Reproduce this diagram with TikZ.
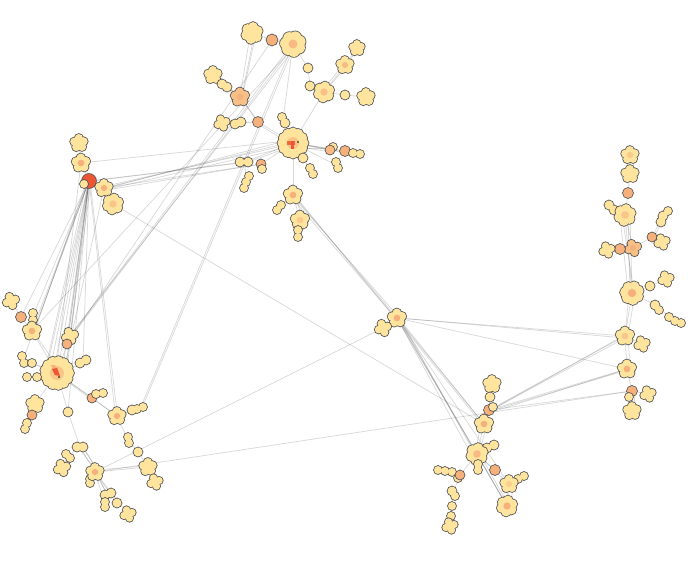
\documentclass[tikz,border=0pt]{standalone}
\definecolor{cy}{HTML}{FEE49C}
\definecolor{co}{HTML}{F6B07C}
\definecolor{cr}{HTML}{EE5533}
\definecolor{cl}{HTML}{555555}
\tikzset{
 ol/.style={draw=cl,line width=1.6pt},
 edg/.style={draw=black!70,opacity=0.21,line width=0.75pt},
}
% single circle: name, radius, colour
\newcommand\sg[3]{\draw[ol] (#1) circle (#2pt); \fill[#3] (#1) circle (#2pt);}
% group of circles: name, colour, list dx/dy/r
\newcommand\grp[3]{%
 \foreach \qx/\qy/\qr in {#3}{\draw[ol] ([shift={(\qx,\qy)}]#1) circle (\qr pt);}
 \foreach \qx/\qy/\qr in {#3}{\fill[#2] ([shift={(\qx,\qy)}]#1) circle (\qr pt);}}
% flower: name, n, d, r (outer radius d+r), petal colour, centre colour
\newcommand\fl[6]{%
 \pgfmathsetmacro\rr{0.46*(#3+#4)}\pgfmathsetmacro\dd{(#3+#4)-\rr}%
 \begin{scope}[shift={(#1)}]
 \foreach \i in {1,...,#2}{\draw[ol] (\i*360/#2+20:\dd pt) circle (\rr pt);}
 \foreach \i in {1,...,#2}{\fill[#5] (\i*360/#2+20:\dd pt) circle (\rr pt);}
 \fill[#5] (0,0) circle (\dd pt);
 \fill[#6] (0,0) circle ({0.75*\rr pt});
 \end{scope}}
% big flower: name, n, d, extra centre drawing
\newcommand\bfl[4]{%
 \begin{scope}[shift={(#1)}]
 \foreach \i in {1,...,#2}{\draw[ol] (\i*360/#2:#3pt) circle (5pt);}
 \foreach \i in {1,...,#2}{\fill[cy] (\i*360/#2:#3pt) circle (5pt);}
 \fill[cy] (0,0) circle (#3pt);
 #4
 \end{scope}}
% edge bundle: a, b, list of offsets ax/ay/bx/by
\newcommand\eb[3]{\foreach \pa/\pb/\pc/\pd in {#3}{\draw[edg] ([shift={(\pa,\pb)}]#1) -- ([shift={(\pc,\pd)}]#2);}}
\newcommand\cn[2]{\draw[edg] (#1) -- (#2);}
\begin{document}
\begin{tikzpicture}[x=1pt,y=-1pt]
\useasboundingbox (0,0) rectangle (688,563);
% ---------- positions ----------
\coordinate (t1) at (252,33);  \coordinate (t2) at (272,40);  \coordinate (t3) at (293,44);
\coordinate (t4) at (357,48);  \coordinate (t5) at (345,65);  \coordinate (t6) at (308,68);
\coordinate (t7) at (366,97);  \coordinate (t8) at (345,95);  \coordinate (t9) at (324,92);
\coordinate (t10) at (310,86); \coordinate (t11) at (213,75); \coordinate (t12) at (224,85);
\coordinate (t13) at (240,97); \coordinate (t14) at (222,123);\coordinate (t15) at (238,123);
\coordinate (t16) at (258,122);\coordinate (t17) at (283,120);\coordinate (t18) at (293,143);
\coordinate (t19) at (245,162);\coordinate (t20) at (261,164);\coordinate (t21) at (246,182);
\coordinate (t22) at (303,158);\coordinate (t23) at (311,171);\coordinate (t24) at (330,150);
\coordinate (t25) at (336,165);\coordinate (t26) at (345,151);\coordinate (t27) at (356,153);
\coordinate (t28) at (293,195);\coordinate (t29) at (279,208);\coordinate (t30) at (300,220);
\coordinate (t31) at (298,232);
\coordinate (l1) at (79,143); \coordinate (l2) at (81,163); \coordinate (l3) at (89,181);
\coordinate (l3b) at (84,184); \coordinate (l4) at (104,188); \coordinate (l5) at (113,204);
\coordinate (m1) at (11,301); \coordinate (m2) at (21,317); \coordinate (m3) at (33,316);
\coordinate (m4) at (32,331); \coordinate (m5) at (70,336); \coordinate (m6) at (67,344);
\coordinate (m7) at (23,360); \coordinate (m8) at (32,363); \coordinate (m9) at (57,373);
\coordinate (m10) at (27,377);\coordinate (m11) at (37,377);\coordinate (m12) at (83,363);
\coordinate (m13) at (35,404);\coordinate (m14) at (32,415);\coordinate (m15) at (27,426);
\coordinate (m16) at (68,412);\coordinate (m17) at (92,398);\coordinate (m18) at (117,416);
\coordinate (m19) at (136,409);\coordinate (m20) at (128,440);\coordinate (m21) at (138,452);
\coordinate (m22) at (148,467);\coordinate (m23) at (155,482);\coordinate (m24) at (80,447);
\coordinate (m25) at (68,456);\coordinate (m26) at (62,468);\coordinate (m27) at (95,472);
\coordinate (m28) at (90,481);\coordinate (m29) at (107,494);\coordinate (m30) at (105,504);
\coordinate (m31) at (117,503);\coordinate (m32) at (128,514);
\coordinate (c1) at (397,318); \coordinate (c2) at (383,328);
\coordinate (b1) at (492,384); \coordinate (b2) at (490,397); \coordinate (b3) at (489,410);
\coordinate (b4) at (484,424); \coordinate (b5) at (477,454); \coordinate (b6) at (490,447);
\coordinate (b7) at (478,467); \coordinate (b8) at (495,470); \coordinate (b9) at (460,475);
\coordinate (b10) at (443,470);\coordinate (b11) at (453,493);\coordinate (b12) at (452,506);
\coordinate (b13) at (451,516);\coordinate (b14) at (450,526);\coordinate (b15) at (509,484);
\coordinate (b16) at (520,478);\coordinate (b17) at (507,506);
\coordinate (r1) at (630,155); \coordinate (r2) at (630,174); \coordinate (r3) at (628,193);
\coordinate (r4) at (625,215); \coordinate (r5) at (611,207); \coordinate (r6) at (663,216);
\coordinate (r7) at (652,237); \coordinate (r8) at (662,242); \coordinate (r9) at (633,248);
\coordinate (r10) at (620,249);\coordinate (r11) at (607,250);\coordinate (r12) at (632,293);
\coordinate (r13) at (650,286);\coordinate (r14) at (666,279);\coordinate (r15) at (657,306);
\coordinate (r16) at (672,319);\coordinate (r17) at (625,336);\coordinate (r18) at (642,344);
\coordinate (r19) at (627,369);\coordinate (r20) at (632,391);\coordinate (r21) at (648,394);
\coordinate (r22) at (632,411);
% ---------- connectors ----------
\eb{t1}{t13}{-2/2/0/0, 2/3/2/-2, 4/0/3/-3}
\eb{t11}{t13}{0/0/0/0, 2/2/-2/2, 3/-1/-3/-2}
\cn{t12}{t13} \eb{t13}{t16}{0/0/0/0, 2/2/0/0} \cn{t15}{t16} \cn{t14}{t15}
\eb{t16}{t18}{0/0/0/0, 0/2/-4/0} \cn{t17}{t18} \cn{t1}{t2} \cn{t2}{t3}
\cn{t3}{t6} \cn{t6}{t10} \cn{t3}{t17}
\eb{t9}{t5}{0/0/0/0, 2/-2/1/2, -2/-1/-2/0} \eb{t5}{t4}{0/0/0/0, 2/0/1/0}
\cn{t9}{t8} \cn{t8}{t7} \cn{t9}{t18}
\eb{t18}{t24}{0/0/0/0, 2/3/0/2, 0/5/-2/-2} \eb{t18}{t26}{0/0/0/0, 3/0/0/2}
\cn{t18}{t27} \cn{t18}{t25} \cn{t18}{t22} \cn{t22}{t23} \cn{t18}{t28}
\eb{t18}{t19}{0/0/0/0, -3/4/3/0} \cn{t18}{t20} \cn{t19}{t21}
\cn{t28}{t29} \eb{t28}{t30}{0/0/0/0, 3/0/2/0} \cn{t30}{t31}
% top to left
\eb{t3}{m5}{-3/3/0/0, -1/4/3/-2, 1/5/-2/2}
\cn{t2}{m6} \eb{t3}{m4}{0/4/0/0}
\eb{t3}{m19}{0/0/4/0, 2/0/6/-1}
% left top group
\eb{l4}{t18}{0/0/-6/0, 2/-2/-6/2, 0/2/-4/4, 3/0/-8/-2}
\eb{l3}{t19}{0/0/0/0, 2/0/4/0} \eb{l4}{t20}{0/0/0/0, 3/2/0/0}
\eb{l2}{t18}{0/0/-6/-2}
\cn{l5}{b4}
\cn{l1}{l2} \eb{l2}{l3}{0/0/0/0, 2/0/2/0} \cn{l3}{l4} \cn{l4}{l5}
\eb{l3}{m9}{0/0/-10/-6, 0/0/-6/-8, 0/0/-2/-9, 0/0/2/-9, 0/0/6/-7, 0/0/10/-4, -2/0/-12/-2, 2/0/8/2}
\eb{l3}{m4}{0/0/0/0, 0/0/3/-3, -2/0/2/2}
\cn{l3}{m3} \cn{l3}{m2}
\eb{l3}{m5}{0/0/0/0, 0/0/-2/3} \cn{l3}{m6} \cn{l3}{m12} \cn{l3}{m7} \cn{l3}{m16}
\eb{l3}{m18}{0/0/-2/-4, 1/0/0/-4}
\eb{l2}{m9}{0/0/0/-10} \eb{l4}{m9}{0/0/8/-8}
% left internal
\eb{m9}{m4}{0/0/0/0, 3/-3/2/2} \cn{m2}{m4} \cn{m1}{m2} \cn{m3}{m4}
\cn{m9}{m12} \eb{m9}{m17}{0/0/0/0, 3/3/0/2} \cn{m9}{m18} \cn{m9}{m13}
\cn{m13}{m14} \cn{m14}{m15} \cn{m9}{m16}
\cn{m9}{m7} \cn{m9}{m8} \cn{m9}{m10} \cn{m9}{m11} \cn{m9}{m5}
\cn{m16}{m24}
\eb{m24}{m27}{0/0/0/0, 3/0/2/-2, -2/0/0/-3, 4/2/4/0}
\cn{m25}{m26} \cn{m24}{m25}
\eb{m27}{m22}{0/0/0/0, 0/-2/-3/-1}
\eb{m27}{m29}{0/0/0/0, 2/2/0/0} \cn{m27}{m30} \cn{m27}{m31} \cn{m27}{m32} \cn{m27}{m28}
\eb{m18}{m19}{0/0/0/0, 2/-2/0/2}
\cn{m18}{m20} \cn{m20}{m21} \cn{m21}{m22} \cn{m22}{m23} \cn{m17}{m18}
% middle
\eb{t28}{c1}{0/0/0/0, 3/2/-2/0, 2/4/0/-3, -1/3/-3/-2}
\eb{c1}{b4}{0/0/0/0, 3/2/0/0, 2/4/-2/0}
\eb{c1}{b5}{0/0/0/0, 4/2/-2/0}
\cn{c1}{b7} \cn{c1}{b15} \eb{c1}{b17}{0/0/0/0, 3/3/0/0}
\eb{c1}{r17}{0/0/0/0, 2/0/0/2} \cn{c1}{r19}
\cn{c2}{c1} \cn{c2}{m27} \cn{m27}{r20}
\eb{b3}{r17}{0/0/0/0, 2/0/0/2, 4/-1/-2/0}
\eb{b3}{r19}{0/0/0/0, 3/2/0/0, 4/0/-3/2}
\cn{b3}{r20}
% bottom right internal
\cn{b1}{b2} \cn{b2}{b3} \cn{b3}{b4} \eb{b4}{b5}{0/0/0/0, 3/0/2/0, -3/0/-2/0}
\cn{b5}{b6} \cn{b5}{b7} \cn{b5}{b8} \cn{b5}{b9} \cn{b9}{b10} \cn{b9}{b11}
\cn{b11}{b12} \cn{b12}{b13} \cn{b13}{b14}
\cn{b5}{b15} \cn{b15}{b16}
\eb{b15}{b17}{0/0/0/0, -4/0/-4/0, 4/0/4/0, -2/2/2/-2}
\eb{b5}{b17}{0/0/0/0, 3/0/0/-3}
% right internal
\eb{r1}{r2}{0/0/0/0, 3/0/3/0, -3/0/-3/0} \cn{r2}{r3} \cn{r3}{r4} \cn{r4}{r5}
\eb{r4}{r12}{0/0/0/0, 3/0/-2/0, -3/0/2/0, 5/2/0/-4, -5/2/-4/-2}
\cn{r4}{r9} \cn{r9}{r10} \cn{r10}{r11} \cn{r9}{r7} \cn{r7}{r8} \eb{r7}{r6}{0/0/0/0, 2/0/2/0}
\cn{r12}{r13} \cn{r13}{r14} \cn{r12}{r15} \cn{r15}{r16}
\eb{r12}{r17}{0/0/0/0, 3/0/3/0, -3/0/0/0} \cn{r17}{r18}
\eb{r17}{r19}{0/0/0/0, 3/0/3/0} \cn{r19}{r20} \cn{r20}{r21} \eb{r20}{r22}{0/0/0/0, 3/0/2/0}
% ---------- blobs ----------
\fl{t1}{6}{5}{6}{cy}{cy}
\sg{t2}{5.5}{co}
\fl{t3}{7}{6.5}{6.5}{cy}{co!80!cy}
\fl{t4}{5}{3.5}{4.5}{cy}{cy}
\fl{t5}{5}{4}{5}{cy}{co!80!cy}
\sg{t6}{4.5}{cy}
\fl{t7}{5}{4}{5}{cy}{cy}
\sg{t8}{4.5}{cy}
\sg{t10}{4.5}{cy}
\fl{t9}{6}{5}{5.5}{cy}{co!70!cy}
\fl{t11}{5}{4}{5}{cy}{cy}
\grp{t12}{cy}{-2/-1/4.5, 3/2/4.5}
\fl{t13}{5}{4}{5.5}{co!70!cy}{co}
\fl{t14}{4}{3.5}{4.5}{cy}{cy}
\grp{t15}{cy}{-3/1/4.5, 3/-1/4.5}
\sg{t16}{5}{co}
\grp{t17}{cy}{-1/-3/4, 2/3/4.5}
\bfl{t18}{12}{10.5}{\fill[co!60!cy] (0,0) circle (6pt); \fill[cr!80!co] (-6,-2) rectangle (2,2); \fill[cr] (-2,-2) rectangle (1,6); \fill[black] (5,-1) circle (0.8pt);}
\grp{t19}{cy}{-5/0/4.5, 3/0/4.5}
\sg{t20}{4.5}{co}
\grp{t20}{cy}{1/5/4}
\grp{t21}{cy}{3/-6/4, 0/0/4, -2/6/4}
\sg{t22}{4.5}{cy}
\grp{t23}{cy}{-1/-3/4, 2/3/4}
\grp{t24}{cy}{3/-3/4}
\sg{t24}{4.5}{co!80!cy}
\grp{t25}{cy}{0/-3/4, 2/3/4}
\sg{t26}{5}{co}
\grp{t27}{cy}{-3/0/4, 4/1/4}
\fl{t28}{5}{4.5}{5}{cy}{co}
\grp{t29}{cy}{-2/2/4, 2/-3/4}
\fl{t30}{5}{4.5}{5}{cy}{co!50!cy}
\grp{t31}{cy}{0/-2/4, 0/5/4}
\fl{l1}{5}{4}{5}{cy}{cy}
\fl{l2}{5}{4.5}{5}{cy}{co}
\sg{l3}{7}{cr}
\sg{l3b}{4}{cy}
\fl{l4}{5}{4}{5}{cy}{co}
\fl{l5}{6}{5}{5.5}{cy}{co!60!cy}
\fl{m1}{4}{4}{4.5}{cy}{cy}
\sg{m2}{5}{co}
\grp{m3}{cy}{0/-3/4, 0/4/4}
\fl{m4}{5}{4.5}{5}{cy}{co}
\fl{m5}{4}{4}{4.5}{cy}{cy}
\sg{m6}{4.5}{co}
\grp{m7}{cy}{-1/-4/4, 1/3/4}
\sg{m8}{4}{cy}
\bfl{m9}{13}{12}{\fill[co!60!cy] (0,0) circle (7pt); \fill[co] (-6,-8) -- (-2,-8) -- (2,-2) -- (-2,0) -- cycle; \fill[cr] (-5,-4) -- (0,-5) -- (3,3) -- (-2,2) -- cycle; \fill[black] (2,4) circle (0.8pt);}
\sg{m10}{4}{cy}
\sg{m11}{4}{cy}
\grp{m12}{cy}{-3/0/4.5, 3/-3/4.5}
\fl{m13}{5}{4}{5}{cy}{cy}
\sg{m14}{4.5}{co}
\grp{m15}{cy}{0/-3/4, -2/3/4}
\sg{m16}{4.5}{cy}
\sg{m17}{4.5}{co}
\grp{m17}{cy}{4/-4/4, 11/-5/4}
\fl{m18}{5}{4}{5}{cy}{co}
\grp{m19}{cy}{-4/1/4.5, 1/0/4, 7/-2/4}
\grp{m20}{cy}{0/-3/4, 1/3/4}
\sg{m21}{4.5}{cy}
\fl{m22}{5}{4}{5}{cy}{cy}
\fl{m23}{4}{3.5}{4.5}{cy}{cy}
\grp{m24}{cy}{-3/0/4.5, 3/0/4.5}
\grp{m25}{cy}{-2/-2/4, 2/2/4}
\fl{m26}{4}{4}{4.5}{cy}{cy}
\grp{m28}{cy}{0/-2/4, 0/2/4}
\fl{m27}{5}{4}{5}{cy}{co}
\grp{m29}{cy}{-2/1/4.5, 4/-1/4.5}
\grp{m30}{cy}{0/-2/4, 0/3/4}
\sg{m31}{4.5}{cy}
\fl{m32}{4}{3.5}{4.5}{cy}{cy}
\fl{c1}{5}{4}{5.5}{cy}{co}
\fl{c2}{4}{4}{4.5}{cy}{cy}
\fl{b1}{5}{4}{5}{cy}{cy}
\sg{b2}{4.5}{cy}
\sg{b3}{5}{co}
\grp{b3}{cy}{4/-3/4}
\fl{b4}{5}{4.5}{5}{cy}{co}
\grp{b6}{cy}{-3/1/4.5, 4/-2/4.5}
\fl{b5}{6}{5}{6}{cy}{co!80!cy}
\grp{b7}{cy}{0/-3/4, 0/3/4}
\sg{b8}{5}{co}
\grp{b10}{cy}{-5/0/4, 2/1/4, 9/2/4}
\grp{b9}{cy}{-2/3/4}
\sg{b9}{4.5}{co}
\grp{b11}{cy}{-1/-2/4.5, 2/3/4}
\sg{b12}{4}{cy}
\sg{b13}{4}{cy}
\fl{b14}{4}{3.5}{4.5}{cy}{cy}
\grp{b16}{cy}{-2/1/4, 4/-2/4}
\fl{b15}{5}{4}{5}{cy}{co!40!cy}
\fl{b17}{6}{5}{5.5}{cy}{co}
\fl{r1}{5}{4}{5}{cy}{co!50!cy}
\fl{r2}{5}{4}{5}{cy}{cy}
\sg{r3}{5}{co}
\grp{r5}{cy}{-2/-2/4.5, 3/3/4.5}
\fl{r4}{6}{5}{6}{cy}{co!60!cy}
\grp{r6}{cy}{5/-5/4, 0/0/4.5, -2/6/4.5}
\sg{r7}{4.5}{co}
\fl{r8}{4}{3.5}{4.5}{cy}{cy}
\fl{r9}{4}{3.5}{5}{co!70!cy}{co}
\sg{r10}{5}{co}
\fl{r11}{4}{3.5}{4.5}{cy}{cy}
\fl{r12}{7}{6}{6}{cy}{co}
\sg{r13}{4.5}{cy}
\fl{r14}{4}{3.5}{4.5}{cy}{cy}
\grp{r15}{cy}{-2/-1/4.5, 2/4/4}
\grp{r16}{cy}{-3/-2/4, 3/2/4, 9/4/4}
\fl{r17}{5}{4.5}{5}{cy}{co!60!cy}
\fl{r18}{4}{3.5}{4.5}{cy}{cy}
\fl{r19}{5}{4.5}{5}{cy}{co}
\sg{r20}{5}{co}
\grp{r20}{cy}{-3/6/4}
\fl{r21}{4}{3.5}{4.5}{cy}{cy}
\fl{r22}{5}{4}{5}{cy}{cy}
\end{tikzpicture}
\end{document}
